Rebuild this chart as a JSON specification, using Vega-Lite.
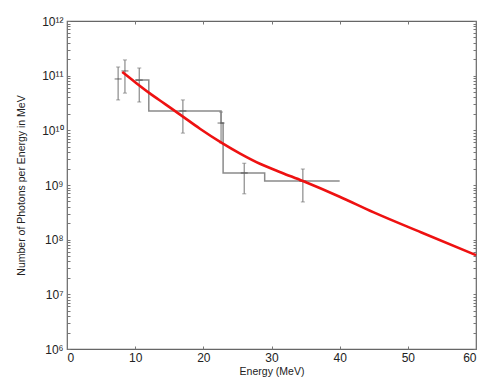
{
  "$schema": "https://vega.github.io/schema/vega-lite/v6.json",
  "width": 409,
  "height": 328,
  "autosize": "none",
  "padding": {"left": 67, "top": 21, "right": 3, "bottom": 33},
  "background": "white",
  "config": {
    "view": {"stroke": "#666", "strokeWidth": 1.2},
    "axis": {
      "labelFont": "Liberation Sans",
      "titleFont": "Liberation Sans",
      "labelColor": "#222",
      "titleColor": "#222",
      "labelFontSize": 12,
      "titleFontSize": 10.5,
      "titleFontWeight": "normal",
      "grid": false,
      "domain": false,
      "tickColor": "#777",
      "tickSize": -3,
      "labelPadding": 7
    }
  },
  "datasets": {
    "curve": [
      {"E": 8.1, "N": 1.17e11},
      {"E": 10.0, "N": 7.6e10},
      {"E": 12.0, "N": 4.9e10},
      {"E": 14.4, "N": 3.02e10},
      {"E": 16.8, "N": 1.86e10},
      {"E": 19.5, "N": 1.07e10},
      {"E": 22.7, "N": 5.9e9},
      {"E": 25.4, "N": 3.76e9},
      {"E": 28.3, "N": 2.45e9},
      {"E": 31.5, "N": 1.68e9},
      {"E": 34.6, "N": 1.18e9},
      {"E": 40.0, "N": 6.1e8},
      {"E": 45.0, "N": 3.15e8},
      {"E": 52.0, "N": 1.35e8},
      {"E": 60.0, "N": 5.2e7}
    ],
    "step": [
      {"i": 0, "E": 10.0, "N": 8.3e10},
      {"i": 1, "E": 12.0, "N": 8.3e10},
      {"i": 2, "E": 12.0, "N": 2.26e10},
      {"i": 3, "E": 22.6, "N": 2.26e10},
      {"i": 4, "E": 22.6, "N": 1.36e10},
      {"i": 5, "E": 22.9, "N": 1.36e10},
      {"i": 6, "E": 22.9, "N": 1.66e9},
      {"i": 7, "E": 29.0, "N": 1.66e9},
      {"i": 8, "E": 29.0, "N": 1.18e9},
      {"i": 9, "E": 40.0, "N": 1.18e9}
    ],
    "err": [
      {"E": 7.5, "N": 8.7e10, "lo": 3.6e10, "hi": 1.44e11},
      {"E": 8.5, "N": 1.22e11, "lo": 4.8e10, "hi": 1.94e11},
      {"E": 10.6, "N": 8.3e10, "lo": 3.3e10, "hi": 1.38e11},
      {"E": 17.0, "N": 2.26e10, "lo": 8.9e9, "hi": 3.6e10},
      {"E": 22.6, "N": 1.36e10, "lo": 5.9e9, "hi": 2.16e10},
      {"E": 26.0, "N": 1.66e9, "lo": 6.9e8, "hi": 2.5e9},
      {"E": 34.6, "N": 1.18e9, "lo": 4.9e8, "hi": 1.96e9}
    ]
  },
  "layer": [
    {
      "data": {"name": "step"},
      "mark": {"type": "line", "color": "#8a8a8a", "strokeWidth": 1.5},
      "encoding": {
        "x": {"field": "E", "type": "quantitative", "scale": {"domain": [0, 60], "nice": false},
          "axis": {"orient": "bottom", "values": [0, 10, 20, 30, 40, 50, 60], "title": "Energy (MeV)", "titlePadding": 3, "labelPadding": 6}},
        "y": {"field": "N", "type": "quantitative", "scale": {"type": "log", "domain": [1e6, 1e12], "nice": false},
          "axis": {"orient": "left", "title": "Number of Photons per Energy in MeV", "titlePadding": 15,
            "values": [1e6,2e6,3e6,4e6,5e6,6e6,7e6,8e6,9e6,1e7,2e7,3e7,4e7,5e7,6e7,7e7,8e7,9e7,1e8,2e8,3e8,4e8,5e8,6e8,7e8,8e8,9e8,1e9,2e9,3e9,4e9,5e9,6e9,7e9,8e9,9e9,1e10,2e10,3e10,4e10,5e10,6e10,7e10,8e10,9e10,1e11,2e11,3e11,4e11,5e11,6e11,7e11,8e11,9e11,1e12],
            "labelExpr": "abs(log(datum.value)/LN10 - round(log(datum.value)/LN10)) < 0.001 ? ['10⁶','10⁷','10⁸','10⁹','10¹⁰','10¹¹','10¹²'][round(log(datum.value)/LN10)-6] : ''"}},
        "order": {"field": "i"}
      }
    },
    {
      "data": {"name": "err"},
      "mark": {"type": "rule", "color": "#8a8a8a", "strokeWidth": 1.2},
      "encoding": {
        "x": {"field": "E", "type": "quantitative", "axis": null},
        "y": {"field": "lo", "type": "quantitative", "axis": null},
        "y2": {"field": "hi"}
      }
    },
    {
      "data": {"name": "err"},
      "mark": {"type": "tick", "orient": "horizontal", "color": "#777", "size": 4, "thickness": 1},
      "encoding": {
        "x": {"field": "E", "type": "quantitative", "axis": null},
        "y": {"field": "lo", "type": "quantitative", "axis": null}
      }
    },
    {
      "data": {"name": "err"},
      "mark": {"type": "tick", "orient": "horizontal", "color": "#777", "size": 4, "thickness": 1},
      "encoding": {
        "x": {"field": "E", "type": "quantitative", "axis": null},
        "y": {"field": "hi", "type": "quantitative", "axis": null}
      }
    },
    {
      "data": {"name": "err"},
      "mark": {"type": "tick", "orient": "horizontal", "color": "#333", "size": 7, "thickness": 1},
      "encoding": {
        "x": {"field": "E", "type": "quantitative", "axis": null},
        "y": {"field": "N", "type": "quantitative", "axis": null}
      }
    },
    {
      "data": {"name": "curve"},
      "mark": {"type": "line", "color": "#ee1111", "strokeWidth": 2.6, "interpolate": "monotone"},
      "encoding": {
        "x": {"field": "E", "type": "quantitative",
          "axis": {"orient": "top", "values": [0, 10, 20, 30, 40, 50, 60], "labels": false, "title": null}},
        "y": {"field": "N", "type": "quantitative",
          "axis": {"orient": "right", "labels": false, "title": null,
            "values": [1e6,2e6,3e6,4e6,5e6,6e6,7e6,8e6,9e6,1e7,2e7,3e7,4e7,5e7,6e7,7e7,8e7,9e7,1e8,2e8,3e8,4e8,5e8,6e8,7e8,8e8,9e8,1e9,2e9,3e9,4e9,5e9,6e9,7e9,8e9,9e9,1e10,2e10,3e10,4e10,5e10,6e10,7e10,8e10,9e10,1e11,2e11,3e11,4e11,5e11,6e11,7e11,8e11,9e11,1e12]}}
      }
    }
  ],
  "resolve": {"axis": {"x": "independent", "y": "independent"}}
}
